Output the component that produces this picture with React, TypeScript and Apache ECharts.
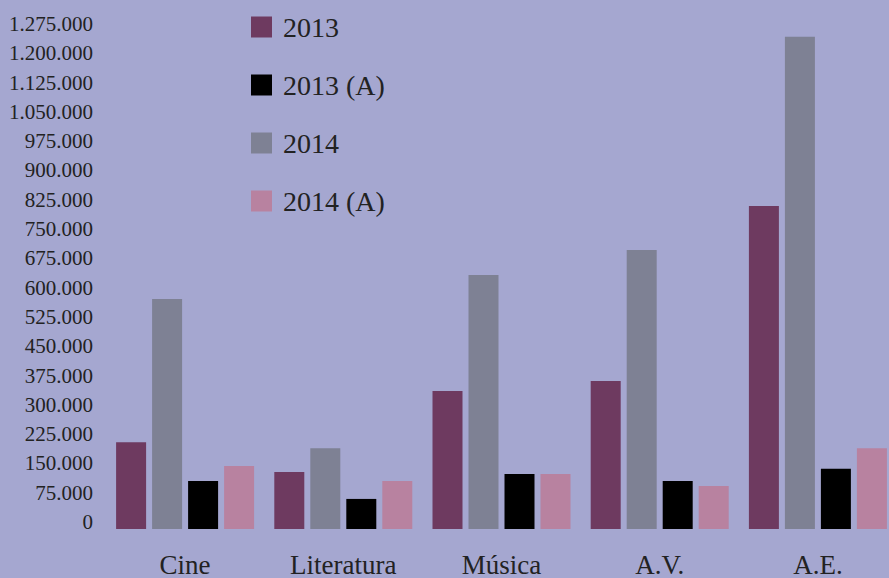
import React, { useEffect, useRef } from "react";
import * as echarts from "echarts";

const categories = ["Cine", "Literatura", "Música", "A.V.", "A.E."];
const s2013 = [222000, 146000, 353000, 379000, 827000];
const s2014 = [589000, 207000, 650000, 714000, 1260000];
const s2013A = [123000, 77000, 141000, 123000, 154000];
const s2014A = [161000, 123000, 141000, 110000, 207000];

const FONT = "'Liberation Serif', 'DejaVu Serif', serif";

function fmt(v: number): string {
  return String(v).replace(/\B(?=(\d{3})+(?!\d))/g, ".");
}

export default function App() {
  const ref = useRef<HTMLDivElement>(null);
  useEffect(() => {
    if (!ref.current) return;
    const chart = echarts.init(ref.current, null, { renderer: "svg" });
    const bar = (name: string, data: number[], color: string) => ({
      name,
      type: "bar",
      data,
      barWidth: 30,
      barGap: "20%",
      itemStyle: { color },
    });
    chart.setOption({
      animation: false,
      backgroundColor: "#a5a7d0",
      grid: { left: 106, top: 31, right: 0, bottom: 49, containLabel: false },
      legend: {
        orient: "vertical",
        left: 251,
        top: 13,
        padding: 0,
        icon: "rect",
        itemWidth: 21,
        itemHeight: 21,
        itemGap: 30,
        data: ["2013", "2013 (A)", "2014", "2014 (A)"],
        textStyle: { fontFamily: FONT, fontSize: 28, color: "#222", padding: [0, 0, 0, 6] },
      },
      xAxis: {
        type: "category",
        data: categories,
        axisLine: { show: false },
        axisTick: { show: false },
        axisLabel: { fontFamily: FONT, fontSize: 27, color: "#222", margin: 22 },
      },
      yAxis: {
        type: "value",
        min: 0,
        max: 1275000,
        interval: 75000,
        axisLine: { show: false },
        axisTick: { show: false },
        splitLine: { show: false },
        axisLabel: {
          margin: 13,
          formatter: (v: number) => "{a|" + fmt(v) + "}",
          rich: {
            a: {
              fontFamily: FONT,
              fontSize: 21,
              color: "#222",
              padding: [0, 0, 14, 0],
            },
          },
        },
      },
      series: [
        bar("2013", s2013, "#6e3a60"),
        bar("2014", s2014, "#7e8194"),
        bar("2013 (A)", s2013A, "#000000"),
        bar("2014 (A)", s2014A, "#b882a0"),
      ],
    });
    return () => chart.dispose();
  }, []);
  return (
    <div style={{ position: "absolute", left: 0, top: 0, width: 889, height: 578, overflow: "hidden" }}>
      <div ref={ref} style={{ width: 897, height: 578 }} />
    </div>
  );
}
